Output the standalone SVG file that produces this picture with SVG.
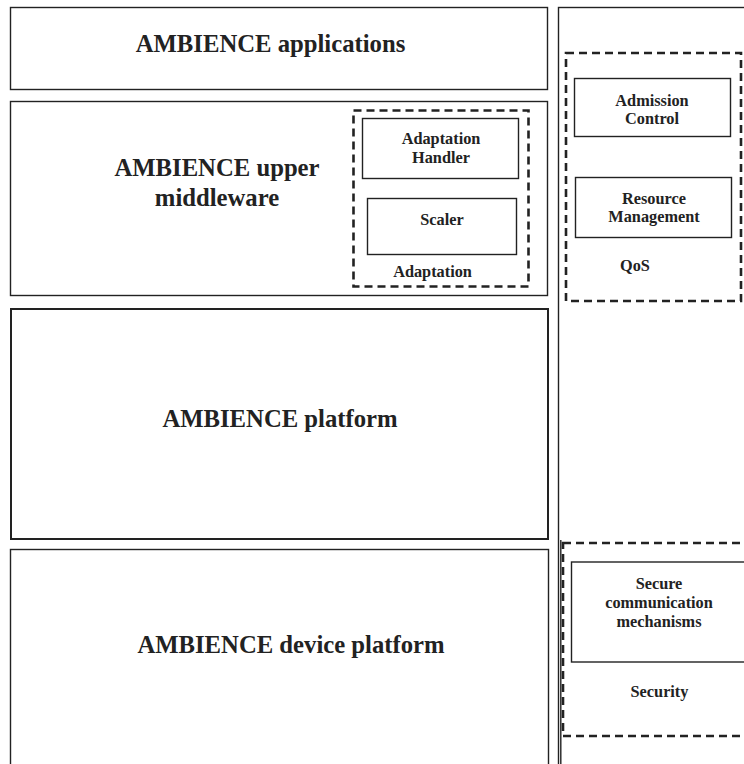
<svg xmlns="http://www.w3.org/2000/svg" width="744" height="764" viewBox="0 0 744 764">
<style>
.box{fill:none;stroke:#222;stroke-width:1.4}
.thick{fill:none;stroke:#222;stroke-width:2}
.dash{fill:none;stroke:#222;stroke-width:2.6;stroke-dasharray:8,5}
.big{font-family:"Liberation Serif","Times New Roman",serif;font-weight:bold;font-size:24.7px;fill:#222;text-anchor:middle}
.small{font-family:"Liberation Serif","Times New Roman",serif;font-weight:bold;font-size:16.3px;fill:#222;text-anchor:middle}
</style>
<rect width="744" height="764" fill="#fff"/>
<g id="applications">
<rect class="box" x="10.5" y="7.5" width="537" height="82"/>
<text class="big" x="270.5" y="52">AMBIENCE applications</text>
</g>
<g id="upper-middleware">
<rect class="box" x="10.5" y="101.5" width="537" height="194"/>
<text class="big" x="217" y="176">AMBIENCE upper</text>
<text class="big" x="217" y="206">middleware</text>
</g>
<g id="adaptation">
<rect class="dash" x="353.5" y="110.5" width="175" height="176"/>
<text class="small" x="432.5" y="277">Adaptation</text>
</g>
<g id="adaptation-handler">
<rect class="box" x="362.5" y="118.5" width="156" height="60"/>
<text class="small" x="441" y="144">Adaptation</text>
<text class="small" x="441" y="163">Handler</text>
</g>
<g id="scaler">
<rect class="box" x="367.5" y="198.5" width="149" height="56"/>
<text class="small" x="442" y="225">Scaler</text>
</g>
<g id="platform">
<rect class="thick" x="11" y="309" width="537" height="230"/>
<text class="big" x="280" y="427">AMBIENCE platform</text>
</g>
<g id="device-platform">
<rect class="box" x="10.5" y="549.5" width="538" height="230"/>
<text class="big" x="291" y="653">AMBIENCE device platform</text>
</g>
<g id="right-column">
<rect class="box" x="558.5" y="7.5" width="200" height="770"/>
<line class="box" x1="560.8" y1="540" x2="560.8" y2="764"/>
</g>
<g id="qos">
<rect class="dash" x="566" y="53" width="175" height="248"/>
<text class="small" x="635" y="271">QoS</text>
</g>
<g id="admission-control">
<rect class="box" x="574.5" y="78.5" width="156" height="58"/>
<text class="small" x="652" y="106">Admission</text>
<text class="small" x="652" y="124">Control</text>
</g>
<g id="resource-management">
<rect class="box" x="575.5" y="177.5" width="156" height="60"/>
<text class="small" x="654" y="204">Resource</text>
<text class="small" x="654" y="222">Management</text>
</g>
<g id="security">
<rect class="dash" x="563" y="543" width="200" height="193"/>
<text class="small" x="659.5" y="697">Security</text>
</g>
<g id="secure-communication">
<rect class="box" x="571.5" y="562" width="190" height="100"/>
<text class="small" x="659" y="589">Secure</text>
<text class="small" x="659" y="608">communication</text>
<text class="small" x="659" y="627">mechanisms</text>
</g>
<g id="connectors"></g>
</svg>
